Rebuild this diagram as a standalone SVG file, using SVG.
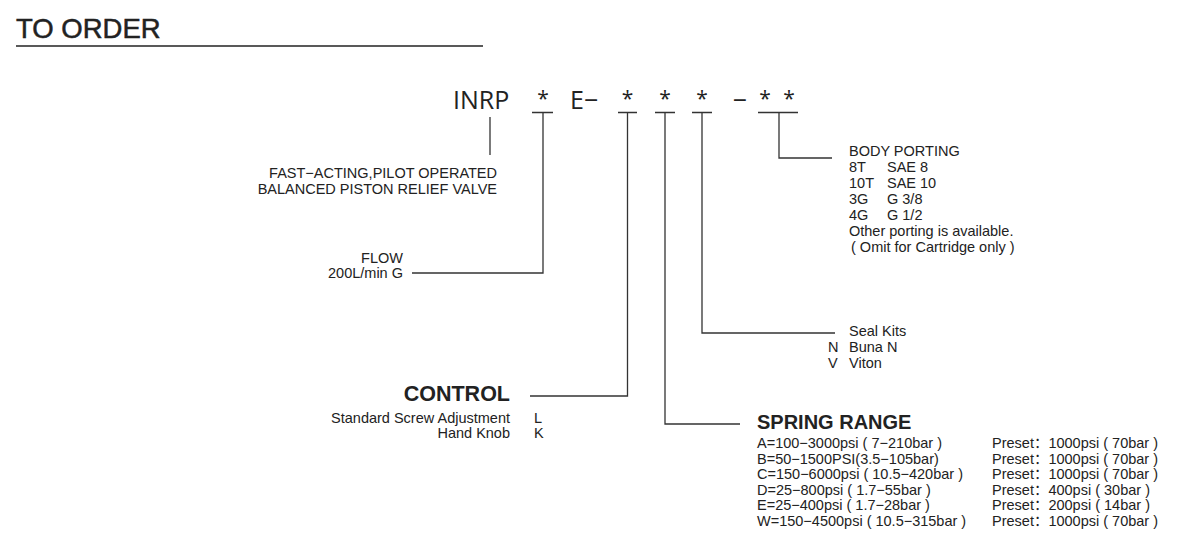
<svg xmlns="http://www.w3.org/2000/svg" width="1180" height="546" viewBox="0 0 1180 546">
<style>
  text { font-family: "Liberation Sans", "Noto Sans CJK SC", Arial, sans-serif; fill: #222; }
  .t { font-size: 14.5px; }
  .r { text-anchor: end; }
  .h { font-weight: bold; }
  .code { font-family: "Open Sans", "Liberation Sans", sans-serif; font-size: 25px; fill: #222; }
  .ast { font-family: "Open Sans", "Liberation Sans", sans-serif; font-size: 21px; fill: #222; text-anchor: middle; }
  .mid { text-anchor: middle; }
  .ln { fill: none; stroke: #333; stroke-width: 1.3; }
</style>
<rect width="1180" height="546" fill="#fff"/>

<g id="title">
  <text x="16" y="38" style="font-size:27.5px;stroke:#222;stroke-width:0.5">TO ORDER</text>
  <line x1="16" y1="46" x2="483" y2="46" stroke="#222" stroke-width="1.5"/>
</g>

<g id="code">
  <text x="453" y="109" class="code">INRP</text>
  <text x="543" y="106" class="ast">*</text>
  <text x="570" y="109" class="code">E−</text>
  <text x="627.5" y="106" class="ast">*</text>
  <text x="665" y="106" class="ast">*</text>
  <text x="702" y="106" class="ast">*</text>
  <text x="740" y="109" class="code mid">−</text>
  <text x="765" y="106" class="ast">*</text>
  <text x="789" y="106" class="ast">*</text>
</g>

<g id="connectors">
  <path class="ln" d="M490 117 V155"/>
  <path class="ln" d="M532 112.5 H553 M543 112.5 V273 H412"/>
  <path class="ln" d="M618 112.5 H637 M627.5 112.5 V396 H530"/>
  <path class="ln" d="M655 112.5 H675 M665 112.5 V424 H740"/>
  <path class="ln" d="M692 112.5 H712 M702 112.5 V333 H835"/>
  <path class="ln" d="M758 112.5 H798 M779 112.5 V158 H832"/>
</g>

<g id="description">
  <text x="497" y="178" class="t r">FAST−ACTING,PILOT OPERATED</text>
  <text x="497" y="194" class="t r">BALANCED PISTON RELIEF VALVE</text>
</g>

<g id="flow">
  <text x="403" y="263" class="t r">FLOW</text>
  <text x="403" y="278" class="t r">200L/min G</text>
</g>

<g id="body-porting">
  <text x="849" y="156" class="t">BODY PORTING</text>
  <text x="849" y="172" class="t">8T</text><text x="887" y="172" class="t">SAE 8</text>
  <text x="849" y="188" class="t">10T</text><text x="887" y="188" class="t">SAE 10</text>
  <text x="849" y="204" class="t">3G</text><text x="887" y="204" class="t">G 3/8</text>
  <text x="849" y="220" class="t">4G</text><text x="887" y="220" class="t">G 1/2</text>
  <text x="849" y="236" class="t">Other porting is available.</text>
  <text x="851" y="252" class="t">( Omit for Cartridge only )</text>
</g>

<g id="seal-kits">
  <text x="849" y="336" class="t">Seal Kits</text>
  <text x="828" y="352" class="t">N</text><text x="849" y="352" class="t">Buna N</text>
  <text x="828" y="368" class="t">V</text><text x="849" y="368" class="t">Viton</text>
</g>

<g id="control">
  <text x="510" y="401" class="h r" style="font-size:21.5px">CONTROL</text>
  <text x="510" y="423" class="t r">Standard Screw Adjustment</text>
  <text x="534" y="423" class="t">L</text>
  <text x="510" y="438" class="t r">Hand Knob</text>
  <text x="534" y="438" class="t">K</text>
</g>

<g id="spring-range">
  <text x="757" y="429" class="h" style="font-size:20px">SPRING RANGE</text>
  <text x="757" y="448" class="t">A=100−3000psi ( 7−210bar )</text>
  <text x="757" y="463.5" class="t">B=50−1500PSI(3.5−105bar)</text>
  <text x="757" y="479" class="t">C=150−6000psi ( 10.5−420bar )</text>
  <text x="757" y="494.5" class="t">D=25−800psi ( 1.7−55bar )</text>
  <text x="757" y="510" class="t">E=25−400psi ( 1.7−28bar )</text>
  <text x="757" y="525.5" class="t">W=150−4500psi ( 10.5−315bar )</text>
  <text x="992" y="448" class="t">Preset：1000psi ( 70bar )</text>
  <text x="992" y="463.5" class="t">Preset：1000psi ( 70bar )</text>
  <text x="992" y="479" class="t">Preset：1000psi ( 70bar )</text>
  <text x="992" y="494.5" class="t">Preset：400psi ( 30bar )</text>
  <text x="992" y="510" class="t">Preset：200psi ( 14bar )</text>
  <text x="992" y="525.5" class="t">Preset：1000psi ( 70bar )</text>
</g>
</svg>
